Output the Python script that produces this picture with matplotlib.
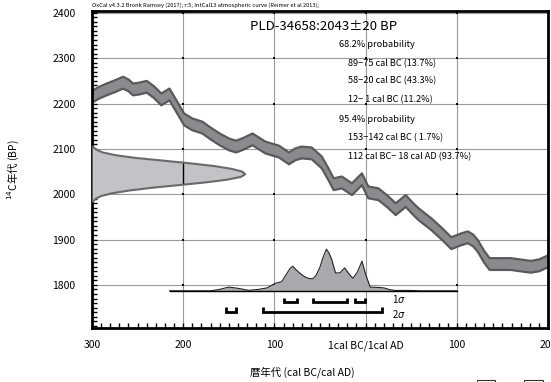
import numpy as np
import matplotlib
matplotlib.use("Agg")
import matplotlib.pyplot as plt
from matplotlib.patches import Rectangle

plt.rcParams['font.family'] = ['Noto Sans CJK JP', 'DejaVu Sans']

# ---------------- data ----------------
title_text = "OxCal v4.3.2 Bronk Ramsey (2017); r:5; IntCal13 atmospheric curve (Reimer et al 2013);"
sample_text = "PLD-34658:2043±20 BP"
range_lines = [
    ("68.2% probability", 0),
    ("89−75 cal BC (13.7%)", 1),
    ("58−20 cal BC (43.3%)", 1),
    ("12− 1 cal BC (11.2%)", 1),
    ("95.4% probability", 0),
    ("153−142 cal BC ( 1.7%)", 1),
    ("112 cal BC− 18 cal AD (93.7%)", 1),
]

# calibration curve (year: BC negative, AD positive) -> 14C BP
cal_years = [-300, -292, -284, -275, -266, -260, -255, -248, -240, -232, -224, -215,
             -208, -199, -190, -179, -170, -160, -150, -142, -133, -124, -117, -110,
             -100, -95, -84, -77, -70, -59, -48, -41, -35, -26, -15, -4, 3, 14, 24,
             33, 44, 50, 58, 72, 84, 94, 104, 112, 118, 123, 130, 136, 148, 159, 170,
             181, 190, 200]
cal_bp = [2215, 2224, 2231, 2238, 2246, 2240, 2231, 2233, 2237, 2225, 2209, 2220,
          2196, 2165, 2154, 2147, 2134, 2121, 2110, 2105, 2112, 2121, 2112, 2103,
          2097, 2094, 2079, 2088, 2092, 2090, 2070, 2045, 2022, 2026, 2011, 2033, 2004,
          2000, 1984, 1967, 1985, 1972, 1956, 1934, 1912, 1892, 1900, 1905, 1898, 1886,
          1862, 1846, 1846, 1846, 1843, 1840, 1843, 1852]
cal_err = 13

# radiocarbon date distribution (14C BP -> relative probability)
date_bp = [2104, 2098, 2092, 2086, 2080, 2074, 2068, 2062, 2056, 2050, 2044, 2038,
           2032, 2026, 2020, 2014, 2008, 2002, 1996, 1990, 1984]
date_prob = [0.006, 0.03, 0.07, 0.155, 0.285, 0.465, 0.645, 0.8, 0.91, 0.98, 1.0, 0.97,
             0.88, 0.74, 0.565, 0.385, 0.24, 0.13, 0.06, 0.024, 0.006]

# calibrated distribution (year -> relative probability)
prob_years = [-215, -170, -160, -150, -140, -128, -117, -108, -99, -92, -88, -83, -80,
              -76, -72, -67, -63, -58, -54, -50, -47, -43, -40, -37, -33, -28, -26, -23,
              -18, -14, -9, -4, 0, 5, 14, 20, 27, 33, 47, 60, 100]
prob_vals = [0, 0, 0.035, 0.09, 0.06, 0.012, 0.035, 0.07, 0.18, 0.22, 0.36, 0.53, 0.59,
             0.5, 0.42, 0.34, 0.3, 0.285, 0.38, 0.57, 0.78, 1.0, 0.9, 0.74, 0.43, 0.43,
             0.48, 0.55, 0.4, 0.3, 0.45, 0.71, 0.4, 0.09, 0.08, 0.07, 0.025, 0.008, 0.01,
             0, 0]

sigma1 = [(-89, -75), (-58, -20), (-12, -1)]
sigma2 = [(-153, -142), (-112, 18)]

xtick_vals = [-300, -200, -100, 0, 100, 200]
xtick_labels = ["300", "200", "100", "1cal BC/1cal AD", "100", "200"]
ytick_vals = [1800, 1900, 2000, 2100, 2200, 2300, 2400]

# ---------------- figure ----------------
W, H = 551, 382
fig = plt.figure(figsize=(W / 100, H / 100), dpi=100)
ax = fig.add_axes([92 / W, 1 - 328 / H, (548 - 92) / W, (328 - 11) / H])
ax.set_xlim(-300, 200)
ax.set_ylim(1705, 2404)

def fx(px):
    return px / W

def fy(py):
    return 1 - py / H

# grid
for xv in xtick_vals:
    ax.axvline(xv, color='#9a9a9a', lw=0.8, zorder=0.5)
for yv in ytick_vals:
    ax.axhline(yv, color='#9a9a9a', lw=0.8, zorder=0.5)
gx, gy = np.meshgrid(xtick_vals, ytick_vals)
ax.scatter(gx.ravel(), gy.ravel(), s=0.6, marker='s', color='black', zorder=0.6, lw=0)

# calibrated distribution
dist_base = 1787
dist_height = 92
py = np.array(prob_years, float)
pv = dist_base + dist_height * np.array(prob_vals)
ax.fill_between(py, dist_base, pv, color='#a9a9ad', zorder=1, lw=0)
ax.plot(py, pv, color='#222222', lw=0.8, zorder=1.2)
ax.plot([prob_years[0], prob_years[-1]], [dist_base, dist_base], color='black', lw=1, zorder=1.3)

# calibration curve band
cy = np.array(cal_years, float)
cb = np.array(cal_bp, float)
ax.fill_between(cy, cb - cal_err, cb + cal_err, color='#8b8b8f', zorder=2, lw=0)
ax.plot(cy, cb + cal_err, color='#5a5a5a', lw=1.6, zorder=2.2, solid_joinstyle='round')
ax.plot(cy, cb - cal_err, color='#5a5a5a', lw=1.6, zorder=2.2, solid_joinstyle='round')

# radiocarbon date distribution on y axis
gauss_len = 168
dx = -300 + gauss_len * np.array(date_prob)
poly = ax.fill_betweenx(date_bp, -300, dx, color='#c3c3c7', zorder=3, lw=0)
ax.plot(dx, date_bp, color='#6a6a6a', lw=1.5, zorder=3.2)
vl = ax.axvline(-200, color='black', lw=1, zorder=3.1)
vl.set_clip_path(poly.get_paths()[0], ax.transData)

# sigma brackets
def bracket(x0, x1, ybot, ytop):
    ax.plot([x0, x0, x1, x1], [ytop, ybot, ybot, ytop], color='black', lw=2,
            zorder=4, solid_joinstyle='miter', solid_capstyle='butt')

for a, b in sigma1:
    bracket(a, b, 1762, 1772)
for a, b in sigma2:
    bracket(a, b, 1740, 1751)

fig.text(fx(392), fy(299), "1$\\sigma$", fontsize=7, va='center', ha='left')
fig.text(fx(392), fy(314), "2$\\sigma$", fontsize=7, va='center', ha='left')

# axes styling
for s in ax.spines.values():
    s.set_linewidth(2)
    s.set_color('black')
ax.set_xticks(xtick_vals)
ax.set_xticklabels(xtick_labels)
ax.set_yticks(ytick_vals)
ax.set_xticks(np.arange(-300, 201, 10), minor=True)
ax.set_yticks(np.arange(1710, 2401, 10), minor=True)
ax.tick_params(axis='both', which='both', direction='in', length=3.5, width=1,
               top=False, right=False)
ax.tick_params(axis='x', which='major', pad=9, labelsize=7.5)
ax.tick_params(axis='y', which='major', pad=12, labelsize=7.5)

# texts
fig.text(fx(92), fy(5.5), title_text, fontsize=4.1, va='center', ha='left')
fig.text(fx(250), fy(27), sample_text, fontsize=9.5, va='center', ha='left')
ys = [44.3, 63.3, 81, 100, 119, 137.7, 156.7]
for (txt, ind), yy in zip(range_lines, ys):
    fig.text(fx(339 if ind == 0 else 348.3), fy(yy), txt, fontsize=6.6,
             va='center', ha='left')

fig.text(fx(302), fy(372), "暦年代 (cal BC/cal AD)", fontsize=7.5, va='center', ha='center')
fig.text(fx(13), fy(170), "$^{14}$C年代 (BP)", fontsize=7.5, va='center', ha='center',
         rotation=90)

# cropped boxes at bottom right
for x0, x1 in [(477, 495), (524, 543)]:
    fig.add_artist(Rectangle((fx(x0), fy(395)), fx(x1) - fx(x0), fy(380) - fy(395),
                             transform=fig.transFigure, fill=False, lw=0.8,
                             edgecolor='#333333'))

fig.savefig("out.png", dpi=100)
